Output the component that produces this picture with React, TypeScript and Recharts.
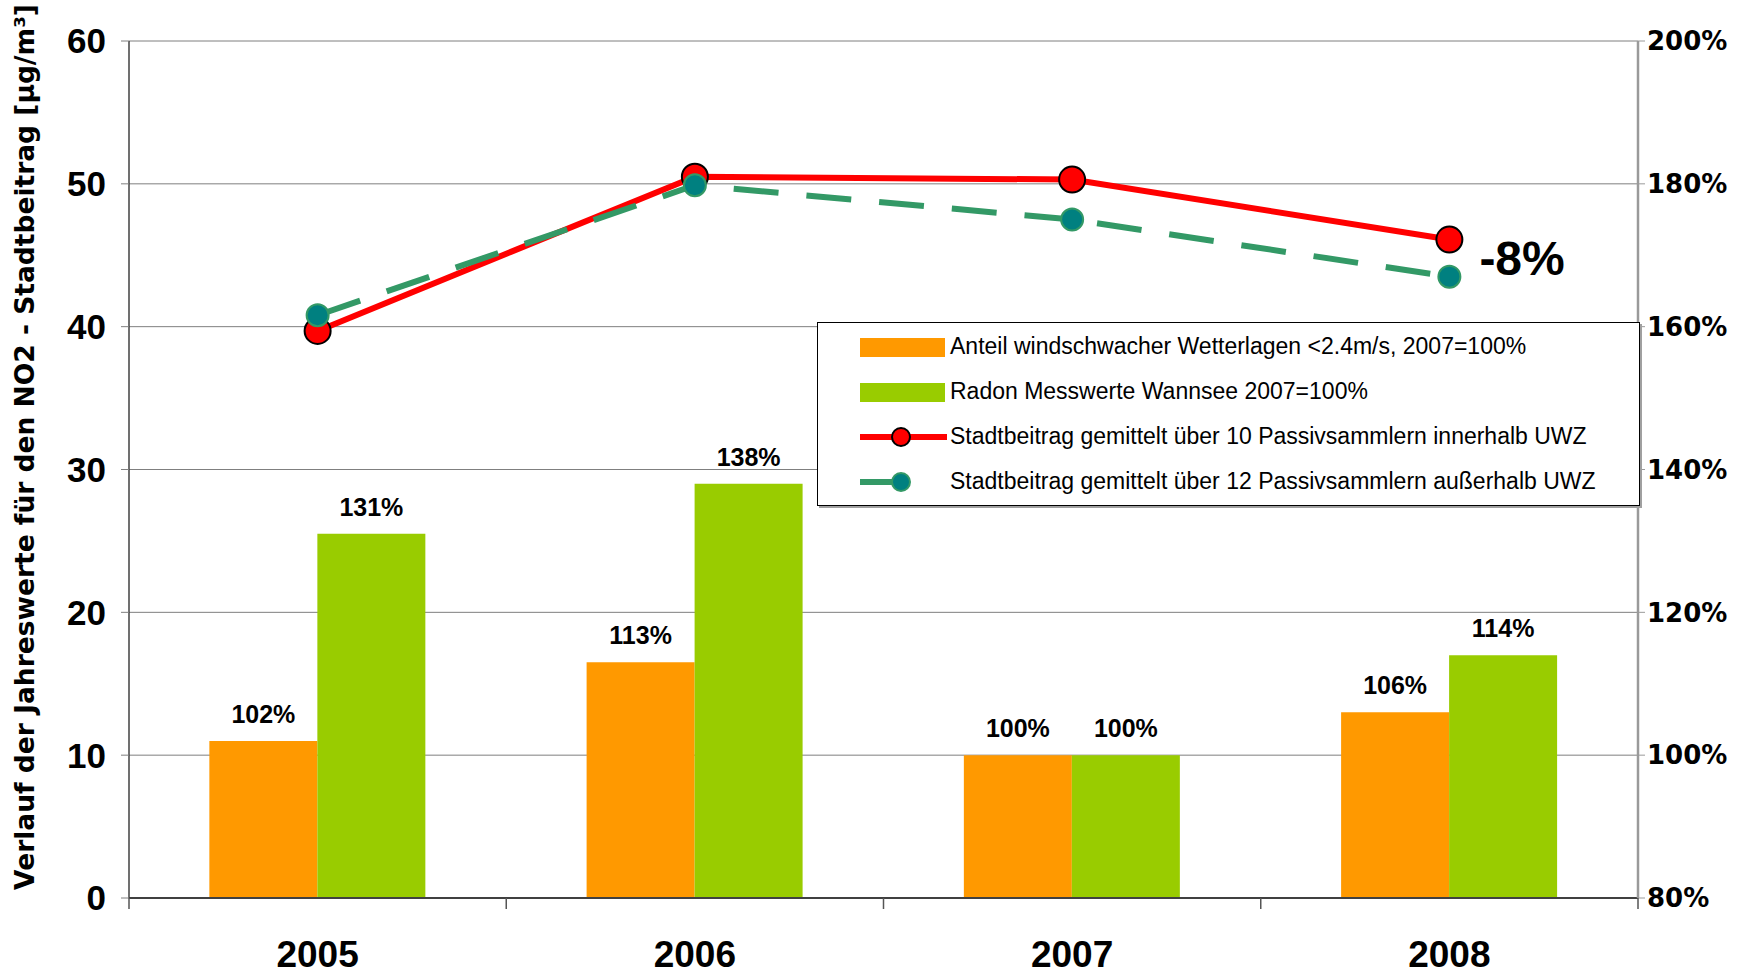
import {
  ComposedChart,
  Bar,
  Line,
  XAxis,
  YAxis,
  CartesianGrid,
  Legend,
  LabelList,
} from 'recharts';

const YEARS = ['2005', '2006', '2007', '2008'];
// bars, right axis (2007 = 100%)
const WIND_SHARE = [102, 113, 100, 106];
const RADON = [131, 138, 100, 114];
// lines, left axis in µg/m³
const NO2_INSIDE = [39.7, 50.5, 50.3, 46.1];
const NO2_OUTSIDE = [40.8, 49.9, 47.5, 43.5];

const LEFT_TICKS = [0, 10, 20, 30, 40, 50, 60];
const RIGHT_TICKS = [80, 100, 120, 140, 160, 180, 200];

const SERIES_NAMES = [
  'Anteil windschwacher Wetterlagen <2.4m/s, 2007=100%',
  'Radon Messwerte Wannsee 2007=100%',
  'Stadtbeitrag gemittelt über 10 Passivsammlern innerhalb UWZ',
  'Stadtbeitrag gemittelt über 12 Passivsammlern außerhalb UWZ',
];
const Y_TITLE = 'Verlauf der Jahreswerte für den NO2 - Stadtbeitrag [µg/m³]';
const CHANGE_LABEL = '-8%';

const ORANGE = '#FF9900';
const LIME = '#99CC00';
const RED = '#FF0000';
const SEA = '#339966';
const TEAL = '#008080';

const ARIAL = '"Liberation Sans", Arial, sans-serif';
const WIDE = '"DejaVu Sans", Verdana, sans-serif';

const data = YEARS.map((year, i) => ({
  year,
  wind: WIND_SHARE[i],
  radon: RADON[i],
  inside: NO2_INSIDE[i],
  outside: NO2_OUTSIDE[i],
}));

const YearTick = (props: any) => {
  const { x, y, payload, index, visibleTicksCount } = props;
  const half = payload.offset || 188.6;
  return (
    <g>
      <line x1={x - half} x2={x - half} y1={y} y2={y + 11} stroke="#555" strokeWidth={1.5} />
      {index === visibleTicksCount - 1 && (
        <line x1={x + half} x2={x + half} y1={y} y2={y + 11} stroke="#555" strokeWidth={1.5} />
      )}
      <text x={x} y={y + 69} textAnchor="middle" fontFamily={ARIAL} fontSize={37} fontWeight="bold" fill="#000">
        {payload.value}
      </text>
    </g>
  );
};

const YTitle = () => (
  <text
    x={0}
    y={10}
    transform="translate(24, 447) rotate(-90)"
    textAnchor="middle"
    fontFamily={WIDE}
    fontSize={26.5}
    fontWeight="bold"
    fill="#000"
  >
    {Y_TITLE}
  </text>
);

const ChangeLabel = (props: any) => {
  const { x, y, index } = props;
  if (index !== NO2_INSIDE.length - 1) return null;
  return (
    <text x={x + 30} y={y + 35} fontFamily={ARIAL} fontSize={48} fontWeight="bold" fill="#000">
      {CHANGE_LABEL}
    </text>
  );
};

const LegendBox = () => {
  const icons = [
    <rect x={0} y={-9} width={85} height={19} fill={ORANGE} />,
    <rect x={0} y={-9} width={85} height={19} fill={LIME} />,
    <g>
      <line x1={0} x2={87} y1={0} y2={0} stroke={RED} strokeWidth={6} />
      <circle cx={41} cy={0} r={9} fill={RED} stroke="#000" strokeWidth={2} />
    </g>,
    <g>
      <line x1={0} x2={36} y1={0} y2={0} stroke={SEA} strokeWidth={6} />
      <circle cx={41} cy={0} r={9} fill={TEAL} stroke={SEA} strokeWidth={2} />
    </g>,
  ];
  return (
    <div
      style={{
        width: 823,
        height: 184,
        border: '1px solid #000',
        boxShadow: '2px 2px 0 #a0a0a0',
        background: '#fff',
        boxSizing: 'border-box',
        paddingTop: 1,
      }}
    >
      {SERIES_NAMES.map((name, i) => (
        <div key={name} style={{ display: 'flex', alignItems: 'center', height: 45 }}>
          <svg width={132} height={30} style={{ flexShrink: 0 }}>
            <g transform="translate(42, 15)">{icons[i]}</g>
          </svg>
          <span style={{ fontFamily: ARIAL, fontSize: 23, color: '#000', whiteSpace: 'nowrap' }}>{name}</span>
        </div>
      ))}
    </div>
  );
};

export default function App() {
  return (
    <div style={{ position: 'absolute', left: 0, top: 0, width: 1743, height: 974, background: '#fff' }}>
      <ComposedChart
        width={1743}
        height={974}
        data={data}
        margin={{ top: 41, right: 0, bottom: 0, left: 0 }}
        barCategoryGap="21.3%"
        barGap={0}
      >
        <CartesianGrid yAxisId="left" vertical={false} stroke="#7f7f7f" strokeWidth={1} />
        <XAxis
          dataKey="year"
          height={76}
          tick={<YearTick />}
          tickLine={false}
          tickSize={0}
          tickMargin={0}
          axisLine={{ stroke: '#404040', strokeWidth: 2 }}
        />
        <YAxis
          yAxisId="left"
          width={129}
          domain={[0, 60]}
          ticks={LEFT_TICKS}
          interval={0}
          tickSize={8}
          tickMargin={15}
          tickLine={{ stroke: '#7f7f7f' }}
          axisLine={{ stroke: '#404040', strokeWidth: 1.5 }}
          tick={{ fontFamily: ARIAL, fontSize: 35, fontWeight: 'bold', fill: '#000' }}
          label={<YTitle />}
        />
        <YAxis
          yAxisId="right"
          orientation="right"
          width={105}
          domain={[80, 200]}
          ticks={RIGHT_TICKS}
          interval={0}
          tickSize={7}
          tickMargin={2}
          tickFormatter={(v: number) => `${v}%`}
          tickLine={{ stroke: '#9a9a9a' }}
          axisLine={{ stroke: '#9a9a9a', strokeWidth: 2.5 }}
          tick={{ fontFamily: WIDE, fontSize: 26, fontWeight: 'bold', fill: '#000' }}
        />
        <Legend
          layout="horizontal"
          verticalAlign="middle"
          align="center"
          content={<LegendBox />}
          wrapperStyle={{ left: 817, top: 322, width: 825, height: 186 }}
        />
        <Bar yAxisId="right" dataKey="wind" name={SERIES_NAMES[0]} fill={ORANGE} isAnimationActive={false}>
          <LabelList
            dataKey="wind"
            position="top"
            offset={18}
            formatter={(v: any) => `${v}%`}
            fill="#000"
            fontFamily={ARIAL}
            fontSize={25}
            fontWeight="bold"
          />
        </Bar>
        <Bar yAxisId="right" dataKey="radon" name={SERIES_NAMES[1]} fill={LIME} isAnimationActive={false}>
          <LabelList
            dataKey="radon"
            position="top"
            offset={18}
            formatter={(v: any) => `${v}%`}
            fill="#000"
            fontFamily={ARIAL}
            fontSize={25}
            fontWeight="bold"
          />
        </Bar>
        <Line
          yAxisId="left"
          dataKey="inside"
          name={SERIES_NAMES[2]}
          stroke={RED}
          strokeWidth={6}
          dot={{ r: 13, fill: RED, stroke: '#000', strokeWidth: 2 }}
          activeDot={false}
          isAnimationActive={false}
        >
          <LabelList dataKey="inside" content={<ChangeLabel />} />
        </Line>
        <Line
          yAxisId="left"
          dataKey="outside"
          name={SERIES_NAMES[3]}
          stroke={SEA}
          strokeWidth={6}
          strokeDasharray="45 28"
          dot={{ r: 11, fill: TEAL, stroke: SEA, strokeWidth: 2, strokeDasharray: '0' }}
          activeDot={false}
          isAnimationActive={false}
        />
      </ComposedChart>
    </div>
  );
}
